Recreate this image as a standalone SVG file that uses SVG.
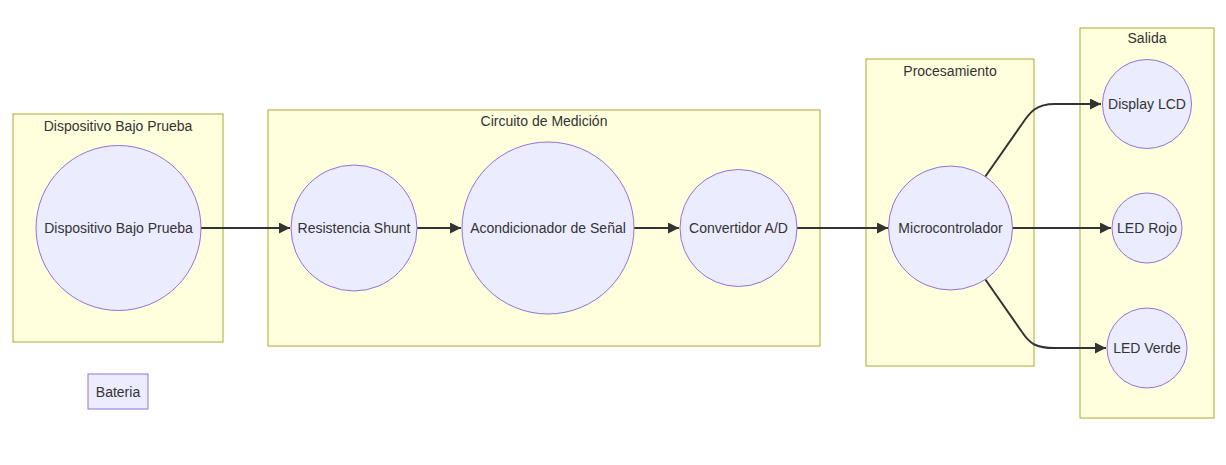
<svg xmlns="http://www.w3.org/2000/svg" width="1226" height="465" viewBox="0 0 1226 465">
<style>
.cluster{fill:#ffffde;stroke:#aaaa33;stroke-width:1}
.node{fill:#ECECFF;stroke:#9370DB;stroke-width:1}
text{font-family:"Liberation Sans",Arial,sans-serif;font-size:14px;fill:#333333;text-anchor:middle;dominant-baseline:central}
.edge{fill:none;stroke:#333333;stroke-width:2}
</style>
<defs>
<marker id="arrow" viewBox="0 0 10 10" refX="10" refY="5" markerUnits="userSpaceOnUse" markerWidth="11" markerHeight="11" orient="auto">
<path d="M0,0 L10,5 L0,10 z" fill="#333333"/>
</marker>
</defs>
<rect width="1226" height="465" fill="#ffffff"/>
<g id="cluster-dut">
<rect class="cluster" x="13" y="114" width="210" height="228"/>
<text x="118" y="126">Dispositivo Bajo Prueba</text>
</g>
<g id="cluster-medicion">
<rect class="cluster" x="268" y="110" width="552" height="236"/>
<text x="544" y="121">Circuito de Medición</text>
</g>
<g id="cluster-procesamiento">
<rect class="cluster" x="866" y="59" width="168" height="307"/>
<text x="950" y="71">Procesamiento</text>
</g>
<g id="cluster-salida">
<rect class="cluster" x="1080" y="28" width="134" height="390"/>
<text x="1147" y="38">Salida</text>
</g>
<g id="connectors">
<path class="edge" d="M201,228 L290,228" marker-end="url(#arrow)"/>
<path class="edge" d="M417,228 L461,228" marker-end="url(#arrow)"/>
<path class="edge" d="M634,228 L679,228" marker-end="url(#arrow)"/>
<path class="edge" d="M797,228 L888,228" marker-end="url(#arrow)"/>
<path class="edge" d="M1012,228 L1111,228" marker-end="url(#arrow)"/>
<path class="edge" d="M985,177 L1022,124 C1030,112 1036,104 1055,104 L1101,104" marker-end="url(#arrow)"/>
<path class="edge" d="M985,279 L1022,332 C1030,344 1036,348 1055,348 L1106,348" marker-end="url(#arrow)"/>
</g>
<g id="node-dispositivo">
<circle class="node" cx="118.5" cy="228" r="82.5"/>
<text x="118.5" y="228">Dispositivo Bajo Prueba</text>
</g>
<g id="node-bateria">
<rect class="node" x="88" y="374" width="60" height="35"/>
<text x="118" y="391.5">Bateria</text>
</g>
<g id="node-resistencia">
<circle class="node" cx="354" cy="228" r="63"/>
<text x="354" y="228">Resistencia Shunt</text>
</g>
<g id="node-acondicionador">
<circle class="node" cx="548" cy="228" r="86"/>
<text x="548" y="228">Acondicionador de Señal</text>
</g>
<g id="node-convertidor">
<circle class="node" cx="738.5" cy="228" r="58.5"/>
<text x="738.5" y="228">Convertidor A/D</text>
</g>
<g id="node-micro">
<circle class="node" cx="950.5" cy="228" r="62"/>
<text x="950.5" y="228">Microcontrolador</text>
</g>
<g id="node-lcd">
<circle class="node" cx="1147" cy="104" r="44.5"/>
<text x="1147" y="104">Display LCD</text>
</g>
<g id="node-rojo">
<circle class="node" cx="1147" cy="228" r="35"/>
<text x="1147" y="228">LED Rojo</text>
</g>
<g id="node-verde">
<circle class="node" cx="1147" cy="348" r="40"/>
<text x="1147" y="348">LED Verde</text>
</g>
</svg>
